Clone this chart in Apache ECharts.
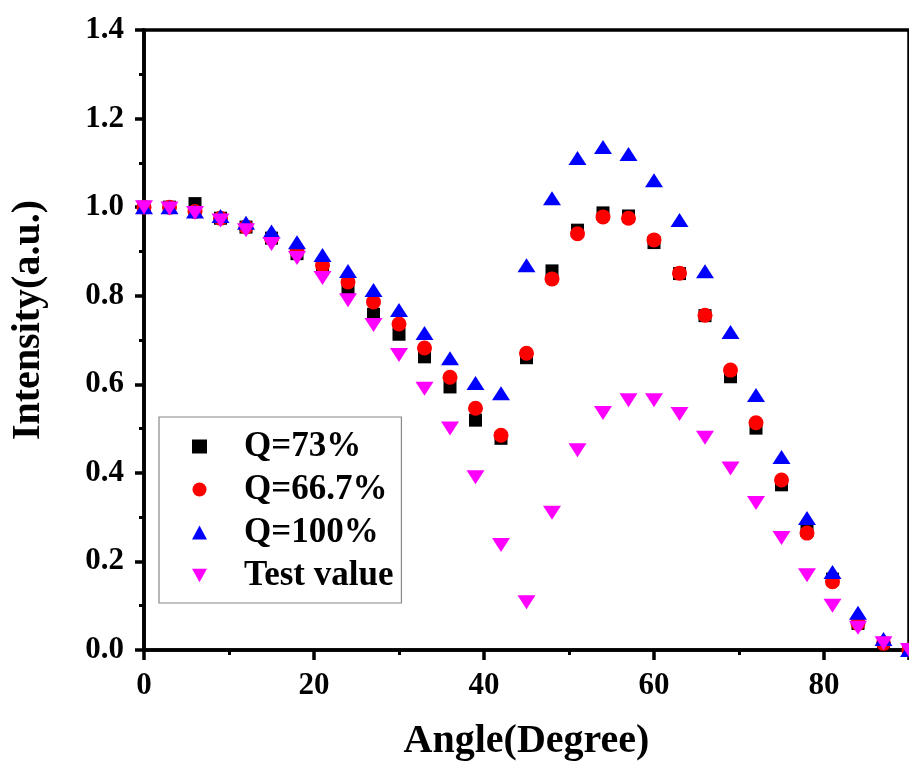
<!DOCTYPE html>
<html><head><meta charset="utf-8">
<script src="https://cdn.jsdelivr.net/npm/echarts@6/dist/echarts.min.js"></script>
<style>html,body{margin:0;padding:0;background:#fff}#c{width:909px;height:769px}</style>
</head><body><div id="c"></div>
<script>
const angles = [0,3,6,9,12,15,18,21,24,27,30,33,36,39,42,45,48,51,54,57,60,63,66,69,72,75,78,81,84,87,90];
const q73 = [1.0,1.0,1.008,0.975,0.955,0.93,0.895,0.862,0.817,0.758,0.713,0.662,0.594,0.519,0.478,0.66,0.856,0.948,0.987,0.98,0.92,0.85,0.755,0.617,0.501,0.373,0.27,0.16,0.06,0.015,0.0];
const q667 = [1.0,1.0,0.99,0.975,0.955,0.93,0.90,0.869,0.831,0.786,0.736,0.682,0.616,0.546,0.485,0.67,0.838,0.94,0.978,0.975,0.926,0.851,0.756,0.632,0.513,0.384,0.264,0.154,0.06,0.015,0.0];
const q100 = [1.0,1.0,0.99,0.98,0.965,0.945,0.921,0.892,0.856,0.813,0.768,0.716,0.659,0.603,0.58,0.869,1.02,1.111,1.136,1.12,1.061,0.971,0.855,0.718,0.576,0.436,0.298,0.176,0.084,0.025,0.0];
const testVal = [1.0,0.997,0.987,0.97,0.948,0.917,0.885,0.84,0.79,0.734,0.666,0.59,0.50,0.39,0.237,0.108,0.31,0.451,0.535,0.564,0.564,0.533,0.479,0.41,0.332,0.253,0.169,0.10,0.05,0.015,0.0];
const seriesNames = ['Q=73%','Q=66.7%','Q=100%','Test value'];

const zip = (ys) => angles.map((a,i)=>[a,ys[i]]);
const font = '"Liberation Serif", "Times New Roman", serif';
const downTri = 'path://M0,0 L10,0 L5,9 Z';
const chart = echarts.init(document.getElementById('c'), null, {renderer:'canvas'});
chart.setOption({
  animation:false,
  backgroundColor:'#fff',
  textStyle:{fontFamily:font},
  grid:{left:144,right:0,top:30,bottom:119,show:true,borderColor:'#000',borderWidth:3.5,backgroundColor:'transparent'},
  legend:{
    orient:'vertical', left:159, top:417,
    padding:[12,8,10,33], itemGap:8,
    borderColor:'#888', borderWidth:1.2, backgroundColor:'#fff',
    itemWidth:15, itemHeight:14,
    textStyle:{fontFamily:font,fontWeight:'bold',fontSize:35,color:'#000',padding:[0,0,0,32]},
    data:[
      {name:seriesNames[0],icon:'rect',itemStyle:{color:'#000'}},
      {name:seriesNames[1],icon:'circle',itemStyle:{color:'#ff0000'}},
      {name:seriesNames[2],icon:'triangle',itemStyle:{color:'#0000ff'}},
      {name:seriesNames[3],icon:downTri,itemStyle:{color:'#ff00ff'}}
    ]
  },
  xAxis:{
    type:'value', min:0, max:90, interval:20,
    name:'Angle(Degree)', nameLocation:'middle', nameGap:72,
    nameTextStyle:{fontFamily:font,fontWeight:'bold',fontSize:40,color:'#000'},
    axisLine:{show:true,lineStyle:{color:'#000',width:3.5}},
    axisTick:{show:true,length:10,lineStyle:{color:'#000',width:3.5}},
    minorTick:{show:true,splitNumber:2,length:5,lineStyle:{color:'#000',width:3}},
    axisLabel:{showMaxLabel:false,margin:20,fontFamily:font,fontWeight:'bold',fontSize:31,color:'#000'},
    splitLine:{show:false}
  },
  yAxis:{
    type:'value', min:0, max:1.4, interval:0.2,
    name:'Intensity(a.u.)', nameLocation:'middle', nameGap:95,
    nameTextStyle:{fontFamily:font,fontWeight:'bold',fontSize:40,color:'#000',padding:[0,0,0,40]},
    axisLine:{show:true,lineStyle:{color:'#000',width:3.5}},
    axisTick:{show:true,length:9,lineStyle:{color:'#000',width:3.5}},
    minorTick:{show:true,splitNumber:2,length:5,lineStyle:{color:'#000',width:3}},
    axisLabel:{margin:20,fontFamily:font,fontWeight:'bold',fontSize:31,color:'#000',formatter:v=>v.toFixed(1)},
    splitLine:{show:false}
  },
  series:[
    {name:seriesNames[0],type:'scatter',data:zip(q73),symbol:'rect',symbolSize:13,itemStyle:{color:'#000',opacity:1},z:2},
    {name:seriesNames[1],type:'scatter',data:zip(q667),symbol:'circle',symbolSize:15,itemStyle:{color:'#ff0000',opacity:1},z:3},
    {name:seriesNames[2],type:'scatter',data:zip(q100),symbol:'triangle',symbolSize:[18,14],itemStyle:{color:'#0000ff',opacity:1},z:4},
    {name:seriesNames[3],type:'scatter',data:zip(testVal),symbol:'triangle',symbolRotate:180,symbolSize:[18,14],itemStyle:{color:'#ff00ff',opacity:1},z:5}
  ]
});
</script></body></html>
